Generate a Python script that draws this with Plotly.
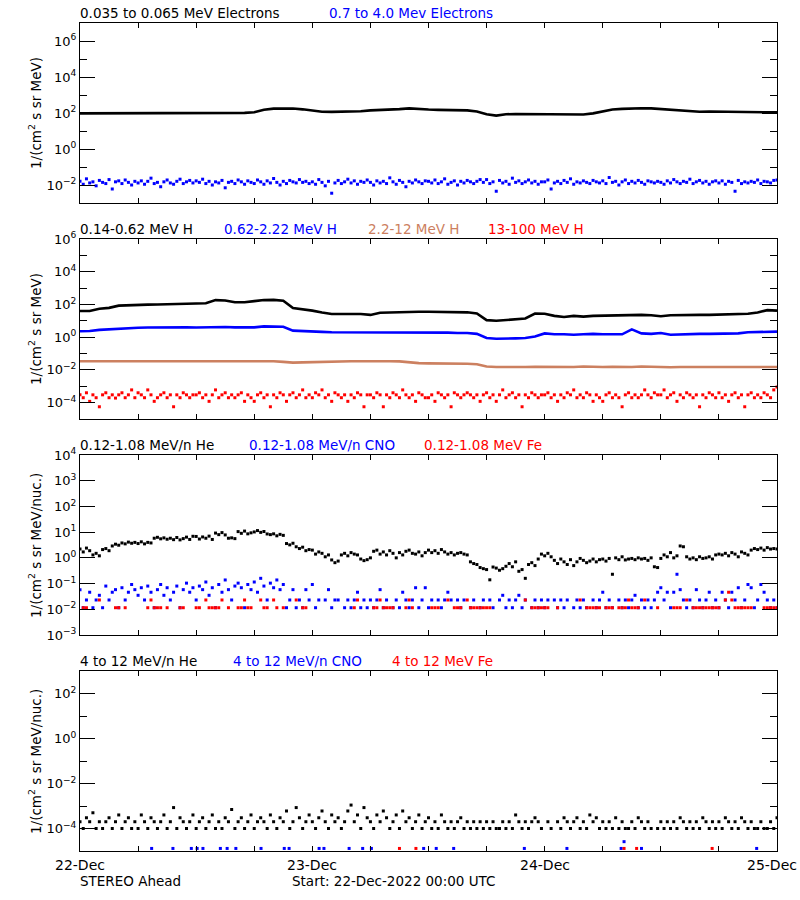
import pandas as pd
import plotly.graph_objects as go

# ---------------- time grids ----------------
START = "2022-12-22 00:00"
END = "2022-12-25 00:00"
t_hour = pd.date_range(START, periods=73, freq="h")
t_20 = pd.date_range(START, periods=217, freq="20min")

day_ticks = ["2022-12-22", "2022-12-23", "2022-12-24", "2022-12-25"]
day_labels = ["22-Dec", "23-Dec", "24-Dec", "25-Dec"]

# ---------------- panel 1: electrons ----------------
e_low = [95, 95, 98, 100, 100, 102, 102, 104, 104, 104, 102, 102,
         104, 104, 102, 100, 100, 102, 110, 150, 175, 182, 178, 160,
         135, 118, 116, 117, 118, 125, 140, 145, 150, 165, 180, 175,
         155, 150, 148, 146, 140, 120, 85, 72, 85, 88, 86, 84,
         85, 82, 80, 80, 82, 95, 125, 155, 170, 180, 182, 180,
         165, 148, 130, 120, 118, 120, 118, 115, 115, 113, 112, 110,
         108]
e_high = [0.016, 0.011, 0.022, 0.013, 0.015, 0.009, 0.018, 0.014, 0.012, 0.020, 0.006, 0.015, 0.017, 0.012, 0.019, 0.014, 0.010, 0.016,
          0.013, 0.017, 0.011, 0.016, 0.024, 0.012, 0.014, 0.008, 0.015, 0.019, 0.013, 0.011, 0.016, 0.021, 0.012, 0.015, 0.018, 0.013,
          0.017, 0.014, 0.021, 0.012, 0.016, 0.010, 0.015, 0.013, 0.018, 0.007, 0.014, 0.016, 0.012, 0.019, 0.015, 0.011, 0.017, 0.014,
          0.012, 0.019, 0.015, 0.011, 0.017, 0.013, 0.023, 0.014, 0.010, 0.016, 0.012, 0.018, 0.015, 0.013, 0.020, 0.014, 0.016, 0.012,
          0.015, 0.011, 0.020, 0.014, 0.009, 0.016, 0.0035, 0.013, 0.018, 0.012, 0.015, 0.021, 0.013, 0.017, 0.011, 0.016, 0.014, 0.019,
          0.014, 0.010, 0.017, 0.013, 0.016, 0.012, 0.025, 0.015, 0.011, 0.018, 0.014, 0.008, 0.016, 0.013, 0.019, 0.015, 0.012, 0.017,
          0.016, 0.013, 0.019, 0.012, 0.015, 0.022, 0.011, 0.014, 0.017, 0.010, 0.016, 0.013, 0.018, 0.015, 0.012, 0.016, 0.020, 0.014,
          0.020, 0.012, 0.015, 0.0045, 0.018, 0.013, 0.016, 0.011, 0.024, 0.014, 0.017, 0.012, 0.015, 0.019, 0.013, 0.016, 0.011, 0.015,
          0.015, 0.019, 0.006, 0.013, 0.016, 0.012, 0.018, 0.014, 0.022, 0.011, 0.015, 0.013, 0.017, 0.014, 0.012, 0.018, 0.015, 0.013,
          0.017, 0.012, 0.026, 0.014, 0.016, 0.010, 0.015, 0.019, 0.012, 0.016, 0.013, 0.018, 0.014, 0.011, 0.017, 0.015, 0.013, 0.016,
          0.014, 0.011, 0.017, 0.013, 0.020, 0.015, 0.012, 0.016, 0.014, 0.021, 0.012, 0.015, 0.018, 0.013, 0.016, 0.011, 0.015, 0.017,
          0.013, 0.017, 0.011, 0.016, 0.014, 0.0045, 0.018, 0.012, 0.015, 0.013, 0.016, 0.014, 0.019, 0.012, 0.016, 0.015, 0.013, 0.018,
          0.019]

# ---------------- panel 2: protons ----------------
h_1 = [40, 40, 55, 62, 85, 92, 95, 98, 100, 105, 108, 110,
       112, 118, 185, 175, 135, 135, 160, 185, 190, 170, 60, 52,
       42, 32, 26, 26, 26, 26, 23, 31, 32, 34, 36, 36,
       36, 36, 35, 33, 33, 28, 11, 10, 11, 12, 14, 28,
       27, 20, 17, 20, 18, 20, 21, 22, 22, 23, 23, 22,
       19, 22, 23, 22, 23, 23, 24, 25, 27, 27, 32, 45,
       42]
h_2 = [2.3, 2.4, 2.8, 3.1, 3.3, 3.6, 3.8, 3.9, 4.0, 4.0, 4.1, 4.0,
       3.9, 4.0, 4.5, 4.2, 4.0, 4.1, 4.0, 4.6, 4.5, 4.3, 2.5, 2.3,
       2.2, 2.1, 2.0, 2.0, 1.9, 2.0, 2.0, 2.1, 2.1, 2.0, 2.0, 2.0,
       1.9, 1.9, 1.9, 1.8, 1.8, 1.6, 0.9, 0.8, 0.8, 0.85, 0.9, 1.1,
       1.7, 1.5, 1.5, 1.4, 1.5, 1.6, 1.5, 1.5, 1.5, 3.0, 1.7, 1.6,
       1.8, 1.4, 1.5, 1.5, 1.6, 1.6, 1.6, 1.6, 1.7, 2.0, 2.0, 2.1,
       2.2]
h_3 = [0.034, 0.034, 0.033, 0.034, 0.035, 0.034, 0.034, 0.035, 0.034, 0.034, 0.035, 0.034,
       0.034, 0.035, 0.034, 0.035, 0.034, 0.034, 0.033, 0.034, 0.034, 0.031, 0.028, 0.029,
       0.030, 0.033, 0.034, 0.035, 0.034, 0.034, 0.035, 0.034, 0.034, 0.033, 0.028, 0.026,
       0.025, 0.025, 0.024, 0.025, 0.024, 0.022, 0.016, 0.015, 0.0145, 0.015, 0.015, 0.0155,
       0.015, 0.0145, 0.015, 0.015, 0.016, 0.015, 0.015, 0.0155, 0.015, 0.015, 0.016, 0.015,
       0.015, 0.0145, 0.015, 0.015, 0.0145, 0.015, 0.015, 0.0155, 0.015, 0.015, 0.015, 0.015,
       0.015]
h_4 = [3e-4, 2e-4, 4e-4, 1.2e-4, 3e-4, 2e-4, 5.6e-5, 3e-4, 4e-4, 2e-4, 3e-4, 1.9e-4, 3e-4, 4e-4, 2e-4, 3e-4, 6e-4, 2e-4,
       4e-4, 3e-4, 2e-4, 6e-4, 3e-4, 1.2e-4, 2e-4, 3e-4, 4e-4, 2e-4, 3e-4, 5.6e-5, 3e-4, 2e-4, 4e-4, 3e-4, 2e-4, 3e-4,
       3e-4, 4e-4, 2e-4, 3e-4, 1.2e-4, 3e-4, 6e-4, 2e-4, 3e-4, 4e-4, 2e-4, 3e-4, 2e-4, 3e-4, 4e-4, 1.2e-4, 3e-4, 2e-4,
       1.2e-4, 3e-4, 4e-4, 2e-4, 3e-4, 5.6e-5, 3e-4, 2e-4, 4e-4, 3e-4, 1.2e-4, 3e-4, 4e-4, 2e-4, 3e-4, 6e-4, 2e-4, 3e-4,
       2e-4, 4e-4, 3e-4, 6e-4, 2e-4, 3e-4, 1.2e-4, 4e-4, 3e-4, 2e-4, 3e-4, 1.2e-4, 3e-4, 2e-4, 4e-4, 3e-4, 5.6e-5, 3e-4,
       3e-4, 2e-4, 4e-4, 3e-4, 5.6e-5, 3e-4, 2e-4, 4e-4, 3e-4, 2e-4, 6e-4, 3e-4, 2e-4, 3e-4, 1.2e-4, 4e-4, 3e-4, 2e-4,
       2e-4, 3e-4, 1.2e-4, 4e-4, 3e-4, 2e-4, 3e-4, 5.6e-5, 4e-4, 3e-4, 2e-4, 3e-4, 4e-4, 3e-4, 2e-4, 3e-4, 1.2e-4, 3e-4,
       4e-4, 2e-4, 3e-4, 1.2e-4, 3e-4, 6e-4, 2e-4, 3e-4, 4e-4, 2e-4, 3e-4, 5.6e-5, 3e-4, 2e-4, 4e-4, 3e-4, 2e-4, 3e-4,
       3e-4, 4e-4, 2e-4, 3e-4, 1.2e-4, 3e-4, 2e-4, 4e-4, 3e-4, 6e-4, 2e-4, 3e-4, 2e-4, 4e-4, 3e-4, 1.2e-4, 3e-4, 2e-4,
       1.2e-4, 3e-4, 4e-4, 2e-4, 3e-4, 2e-4, 5.6e-5, 3e-4, 4e-4, 2e-4, 3e-4, 2e-4, 3e-4, 6e-4, 3e-4, 2e-4, 4e-4, 3e-4,
       3e-4, 6e-4, 2e-4, 3e-4, 4e-4, 1.2e-4, 3e-4, 2e-4, 4e-4, 3e-4, 2e-4, 3e-4, 5.6e-5, 3e-4, 2e-4, 4e-4, 3e-4, 2e-4,
       4e-4, 2e-4, 3e-4, 1.2e-4, 3e-4, 4e-4, 2e-4, 3e-4, 5.6e-5, 3e-4, 4e-4, 2e-4, 3e-4, 2e-4, 4e-4, 3e-4, 2e-4, 6e-4,
       9e-4]

# ---------------- panel 3: 0.12-1.08 MeV/n heavy ions ----------------
he_lo = [2.2, 1.7, 2.4, 1.9, 1.3, 1.5, 1.2, 2.1, 2.3, 1.9, 2.9, 3.4, 3.1, 3.8, 3.5, 4.1, 3.7, 4.0,
         3.6, 4.2, 3.5, 4.0, 3.8, 5.8, 6.3, 5.5, 6.0, 5.3, 5.8, 5.1, 6.2, 5.0, 5.6, 6.4, 5.2, 6.9,
         6.8, 5.4, 6.5, 5.8, 7.0, 5.2, 9.2, 8.0, 9.6, 7.8, 5.8, 6.0, 5.6, 10.5, 9.0, 11.0, 8.6, 9.4,
         10.2, 11.5, 9.8, 10.6, 8.5, 8.0, 8.6, 7.2, 8.2, 7.5, 3.6, 3.2, 3.7, 2.7, 2.3, 2.6, 1.9, 2.1,
         2.0, 1.4, 1.7, 1.5, 1.1, 1.3, 0.83, 0.65, 0.75, 1.3, 1.5, 1.2, 1.6, 1.4, 1.3, 0.9, 0.78, 0.85,
         1.0, 1.8, 2.0, 1.4, 1.7, 1.3, 1.9, 1.5, 1.0, 1.6, 1.3, 1.8, 2.0, 1.5, 1.4, 1.7, 1.2, 1.6,
         2.0, 1.6, 1.9, 1.5, 2.1, 1.7, 1.4, 1.6, 1.3, 1.5, 1.6, 1.4, 1.3, 0.7, 0.6, 0.55, 0.42, 0.38,
         0.35, 0.14, 0.44, 0.4, 0.33, 0.38, 0.47, 0.6, 0.45, 0.7, 0.3, 0.35, 0.16, 0.55, 0.65, 0.5, 0.9, 1.4,
         1.2, 1.5, 1.1, 0.8, 0.6, 0.9, 0.7, 0.55, 0.85, 0.5, 0.7, 0.95, 0.8, 0.65, 0.75, 0.9, 0.7, 0.85,
         0.9, 0.75, 0.95, 0.23, 1.0, 0.85, 1.1, 0.83, 0.9, 0.95, 0.85, 1.0, 0.9, 0.95, 0.8, 1.0, 0.45, 0.42,
         0.95, 1.3, 1.1, 1.6, 1.0, 1.2, 2.9, 2.7, 1.1, 0.9, 1.0, 0.85, 1.1, 0.95, 1.0, 1.1, 0.9, 1.3,
         1.4, 1.3, 1.5, 1.2, 1.6, 1.4, 1.1, 1.7, 1.5, 1.3, 2.0, 2.3, 2.1, 2.4, 2.0, 2.5, 2.2, 2.3,
         2.2]
cno_lo = [0.058, 0.0115, 0.023, 0.046, 0.0115, 0.023, 0.035, 0.0115, 0.08, 0.023, 0.046, 0.058, 0.0115, 0.069, 0.023, 0.046, 0.092, 0.058,
          0.035, 0.069, 0.023, 0.08, 0.046, 0.0115, 0.058, 0.092, 0.035, 0.069, 0.023, 0.046, 0.08, 0.0115, 0.058, 0.104, 0.046, 0.069,
          0.023, 0.08, 0.058, 0.115, 0.035, 0.069, 0.0115, 0.092, 0.046, 0.138, 0.058, 0.023, 0.08, 0.104, 0.069, 0.0115, 0.092, 0.058,
          0.115, 0.046, 0.16, 0.08, 0.023, 0.104, 0.069, 0.138, 0.058, 0.092, 0.0115, 0.023, 0.058, 0.0115, 0.023, 0.0115, 0.058, 0.023,
          0.092, 0.0115, 0.023, None, 0.023, 0.058, 0.0115, 0.023, 0.023, None, 0.0115, 0.023, 0.0115, 0.023, 0.046, 0.0115, 0.023, 0.0115,
          0.023, 0.0115, 0.023, 0.058, 0.0115, 0.023, None, 0.0115, 0.023, 0.0115, 0.046, 0.023, 0.0115, 0.023, 0.069, 0.0115, 0.023, 0.069,
          0.0115, 0.023, None, 0.023, 0.0115, 0.023, 0.046, 0.023, None, 0.023, 0.0115, 0.023, None, 0.0115, 0.023, None, 0.0115, 0.023,
          None, 0.023, 0.0115, None, 0.023, 0.035, 0.0115, 0.023, 0.0115, 0.023, 0.035, 0.0115, 0.023, None, 0.0115, 0.023, 0.0115, 0.023,
          0.0115, 0.023, None, 0.023, 0.0115, 0.023, 0.0115, 0.023, None, 0.0115, 0.023, 0.0115, 0.023, 0.0115, None, 0.023, 0.0115, 0.023,
          0.046, 0.0115, 0.023, 0.0115, None, 0.023, 0.0115, 0.023, 0.0115, 0.023, 0.035, 0.0115, 0.023, 0.0115, 0.023, 0.0115, 0.023, 0.046,
          0.069, 0.023, 0.046, 0.0115, 0.046, 0.23, 0.058, 0.023, 0.0115, 0.023, 0.0115, 0.058, 0.023, 0.0115, 0.023, 0.046, 0.0115, 0.023,
          0.0115, 0.046, 0.023, 0.0115, 0.046, 0.023, 0.069, 0.0115, 0.023, 0.092, 0.069, 0.0115, 0.023, 0.092, 0.046, 0.023, 0.0115, 0.023,
          0.0115]
fe_lo = [None, 0.0115, 0.0115, None, None, None, 0.023, None, None, None, None, 0.0115, 0.0115, None, 0.0115, None, None, None,
         None, None, None, 0.0115, 0.023, 0.0115, 0.0115, 0.0115, None, 0.0115, None, None, None, 0.0115, 0.0115, None, None, None,
         0.0115, 0.0115, None, 0.023, 0.0115, 0.0115, 0.0115, 0.0115, 0.023, None, 0.0115, None, None, 0.0115, 0.0115, 0.023, 0.0115, 0.0115,
         None, None, 0.023, 0.0115, 0.0115, None, 0.023, 0.0115, None, 0.0115, None, None, None, 0.023, None, 0.0115, 0.0115, None,
         None, None, None, None, None, None, None, None, None, None, None, None, None, 0.0115, 0.023, None, None, None,
         None, 0.0115, 0.0115, 0.023, 0.0115, 0.0115, 0.0115, 0.0115, None, None, None, 0.0115, 0.023, 0.0115, None, None, None, None,
         None, 0.0115, 0.0115, 0.0115, None, None, 0.023, None, 0.0115, 0.0115, 0.0115, None, 0.023, 0.0115, 0.0115, 0.0115, 0.0115, 0.0115,
         0.0115, 0.0115, None, None, None, None, None, None, None, None, None, None, 0.023, None, 0.0115, 0.0115, 0.0115, 0.0115,
         0.0115, 0.0115, None, None, 0.0115, None, None, None, None, None, None, 0.023, None, 0.0115, 0.0115, 0.0115, 0.0115, 0.0115,
         None, 0.0115, 0.0115, 0.0115, None, 0.0115, 0.0115, 0.0115, 0.023, 0.0115, 0.0115, 0.0115, None, 0.023, None, None, None, 0.0115,
         None, None, None, None, 0.0115, 0.0115, 0.0115, None, 0.023, None, 0.0115, 0.0115, 0.0115, 0.0115, 0.0115, 0.0115, 0.0115, 0.0115,
         0.0115, None, 0.023, 0.046, 0.023, 0.0115, 0.0115, 0.0115, 0.0115, 0.0115, 0.0115, None, None, None, 0.0115, 0.0115, 0.0115, 0.0115,
         0.0115]

# ---------------- panel 4: 4-12 MeV/n heavy ions ----------------
he_hi = [2e-4, 1e-4, 3e-4, 2e-4, 5e-4, 1e-4, 2e-4, 1e-4, 2e-4, 3e-4, 1e-4, 2e-4, 4e-4, 1e-4, 2e-4, 3e-4, 1e-4, 2e-4,
         1e-4, 4e-4, 2e-4, 1e-4, 3e-4, 2e-4, 1e-4, 2e-4, 4e-4, 1e-4, 2e-4, 8.5e-4, 1e-4, 3e-4, 2e-4, 1e-4, 2e-4, 4e-4,
         1e-4, 2e-4, 3e-4, 1e-4, 2e-4, 4e-4, 1e-4, 2e-4, 1e-4, 3e-4, 2e-4, 7e-4, 1e-4, 2e-4, 3e-4, 1e-4, 2e-4, 4e-4,
         1e-4, 2e-4, 3e-4, 2e-4, 1e-4, 4e-4, 2e-4, 1e-4, 3e-4, 2e-4, 6e-4, 1e-4, 2e-4, 8.5e-4, 3e-4, 1e-4, 2e-4, 4e-4,
         2e-4, 1e-4, 3e-4, 6e-4, 2e-4, 1e-4, 4e-4, 2e-4, 3e-4, 1e-4, 2e-4, 6e-4, 1.1e-3, 2e-4, 4e-4, 1e-4, 8.5e-4, 3e-4,
         2e-4, 1e-4, 4e-4, 2e-4, 6e-4, 3e-4, 1e-4, 2e-4, 4e-4, 1e-4, 6e-4, 2e-4, 3e-4, 1e-4, 2e-4, 4e-4, 1e-4, 2e-4,
         3e-4, 1e-4, 2e-4, 1e-4, 4e-4, 2e-4, 1e-4, 2e-4, 1e-4, 2e-4, 3e-4, 1e-4, 2e-4, 1e-4, 2e-4, 1e-4, 2e-4, 1e-4,
         2e-4, 1e-4, 2e-4, 1e-4, 1e-4, 2e-4, 1e-4, 2e-4, 1e-4, 4e-4, 2e-4, 1e-4, 2e-4, 1e-4, 2e-4, 3e-4, 2e-4, 1e-4,
         None, 2e-4, 1e-4, None, 2e-4, 1e-4, 3e-4, 2e-4, 1e-4, 2e-4, 3e-4, 1e-4, 2e-4, 1e-4, 4e-4, 2e-4, 3e-4, 1e-4,
         2e-4, 1e-4, 2e-4, 1e-4, 3e-4, 1e-4, 2e-4, 1e-4, 1e-4, 2e-4, 1e-4, 3e-4, 2e-4, 1e-4, 2e-4, 1e-4, None, 1e-4,
         2e-4, 1e-4, 2e-4, 1e-4, 2e-4, 1e-4, 3e-4, 2e-4, 1e-4, 2e-4, 1e-4, 2e-4, 1e-4, 3e-4, 2e-4, 1e-4, 2e-4, 1e-4,
         2e-4, 1e-4, 3e-4, 2e-4, 1e-4, 2e-4, 1e-4, 3e-4, 2e-4, 1e-4, 2e-4, 1e-4, 1e-4, 2e-4, 1e-4, 1e-4, 2e-4, 1e-4,
         3e-4]
cno_hi_hours = [7.4, 9.6, 11.5, 12.1, 12.7, 14.5, 15.2, 16.1, 18.7, 21.1, 21.6, 24.7, 25.2,
                27.8, 29.2, 30.1, 35.5, 36.8, 38.6, 45.9, 50.3, 55.9, 56.2, 58.0, 69.9]
cno_hi = [1.3e-5, 1.3e-5, 1.3e-5, 1.3e-5, 1.3e-5, 1.3e-5, 1.3e-5, 1.3e-5, 1.3e-5, 1.3e-5, 1.3e-5, 1.3e-5, 1.3e-5,
          1.3e-5, 1.3e-5, 1.3e-5, 1.3e-5, 1.3e-5, 1.3e-5, 1.3e-5, 1.3e-5, 1.3e-5, 2.6e-5, 1.3e-5, 1.3e-5]
fe_hi_hours = [33.0, 34.7, 56.2, 57.5, 65.3]
fe_hi = [1.3e-5, 1.3e-5, 1.3e-5, 1.3e-5, 1.3e-5]

t_cno_hi = [pd.Timestamp(START) + pd.Timedelta(hours=h) for h in cno_hi_hours]
t_fe_hi = [pd.Timestamp(START) + pd.Timedelta(hours=h) for h in fe_hi_hours]

# ---------------- styling ----------------
BLACK = "#000000"
BLUE = "#0000FF"
RED = "#FF0000"
SIENNA = "#CC8060"
FONT = "DejaVu Sans"


def line(x, y, color, xa, ya, w=2.6):
    return go.Scatter(x=x, y=y, mode="lines", line=dict(color=color, width=w),
                      xaxis=xa, yaxis=ya, showlegend=False, hoverinfo="skip")


def dots(x, y, color, xa, ya, size=3):
    return go.Scatter(x=x, y=y, mode="markers",
                      marker=dict(symbol="square", size=size, color=color, line=dict(width=0)),
                      xaxis=xa, yaxis=ya, showlegend=False, hoverinfo="skip")


fig = go.Figure()
# panel 1
fig.add_trace(line(t_hour, e_low, BLACK, "x", "y"))
fig.add_trace(dots(t_20, e_high, BLUE, "x", "y"))
# panel 2
fig.add_trace(line(t_hour, h_1, BLACK, "x2", "y2"))
fig.add_trace(line(t_hour, h_2, BLUE, "x2", "y2"))
fig.add_trace(line(t_hour, h_3, SIENNA, "x2", "y2"))
fig.add_trace(dots(t_20, h_4, RED, "x2", "y2"))
# panel 3
fig.add_trace(dots(t_20, he_lo, BLACK, "x3", "y3"))
fig.add_trace(dots(t_20, cno_lo, BLUE, "x3", "y3"))
fig.add_trace(dots(t_20, fe_lo, RED, "x3", "y3"))
# panel 4
fig.add_trace(dots(t_20, he_hi, BLACK, "x4", "y4"))
fig.add_trace(dots(t_cno_hi, cno_hi, BLUE, "x4", "y4"))
fig.add_trace(dots(t_fe_hi, fe_hi, RED, "x4", "y4"))

PLOT_H = 828.0
domains = [[648 / PLOT_H, 1.0], [432 / PLOT_H, 612 / PLOT_H],
           [216 / PLOT_H, 396 / PLOT_H], [0.0, 180 / PLOT_H]]


def sup(e):
    s = str(e) if e >= 0 else "\u2212" + str(-e)
    return "10<sup>" + s + "</sup>"


y_specs = [
    dict(rng=[-3, 7], major=[-2, 0, 2, 4, 6], minor=[-1, 1, 3, 5]),
    dict(rng=[-5, 6], major=[-4, -2, 0, 2, 4, 6], minor=[-3, -1, 1, 3, 5]),
    dict(rng=[-3, 4], major=[-3, -2, -1, 0, 1, 2, 3, 4], minor=[]),
    dict(rng=[-5, 3], major=[-4, -2, 0, 2], minor=[-3, -1, 1]),
]

layout = dict(
    width=800, height=900,
    margin=dict(l=80, r=23, t=23, b=49, autoexpand=False),
    paper_bgcolor="white", plot_bgcolor="white",
    font=dict(family=FONT, size=13, color="black"),
    showlegend=False,
)

for i in range(4):
    n = "" if i == 0 else str(i + 1)
    spec = y_specs[i]
    layout["xaxis" + n] = dict(
        type="date", range=[START, END], domain=[0, 1], anchor="y" + n,
        showline=True, linecolor="black", linewidth=1, mirror="ticks",
        ticks="inside", ticklen=5, tickwidth=1, tickcolor="black",
        tickmode="array", tickvals=day_ticks, ticktext=day_labels,
        showticklabels=False,
        showgrid=False, zeroline=False, automargin=False,
        minor=dict(dtick=6 * 3600 * 1000, tick0=START, ticks="inside", ticklen=5,
                   tickcolor="black", tickwidth=1, showgrid=False),
    )
    layout["yaxis" + n] = dict(
        type="log", range=spec["rng"], domain=domains[i], anchor="x" + n,
        showline=True, linecolor="black", linewidth=1, mirror="ticks",
        ticks="inside", ticklen=15, tickwidth=1, tickcolor="black",
        tickmode="array", tickvals=[10.0 ** e for e in spec["major"]],
        ticktext=[sup(e) for e in spec["major"]],
        tickfont=dict(family=FONT, size=13),
        showgrid=False, zeroline=False, automargin=False,
        minor=dict(tickmode="array", tickvals=[10.0 ** e for e in spec["minor"]],
                   ticks="inside", ticklen=7, tickcolor="black", tickwidth=1, showgrid=False),
    )

fig.update_layout(**layout)

W = 696.7


def px(xp):
    return (xp - 80) / W


titles = [
    (0, [("0.035 to 0.065 MeV Electrons", BLACK, 80), ("0.7 to 4.0 Mev Electrons", BLUE, 329)]),
    (1, [("0.14-0.62 MeV H", BLACK, 80), ("0.62-2.22 MeV H", BLUE, 224),
         ("2.2-12 MeV H", SIENNA, 368), ("13-100 MeV H", RED, 488)]),
    (2, [("0.12-1.08 MeV/n He", BLACK, 80), ("0.12-1.08 MeV/n CNO", BLUE, 249),
         ("0.12-1.08 MeV Fe", RED, 424)]),
    (3, [("4 to 12 MeV/n He", BLACK, 80), ("4 to 12 MeV/n CNO", BLUE, 233),
         ("4 to 12 MeV Fe", RED, 392)]),
]
ann = []
for i, parts in titles:
    for text, color, xp in parts:
        ann.append(dict(text=text, x=px(xp), xref="paper", y=domains[i][1], yref="paper",
                        xanchor="left", yanchor="bottom", showarrow=False, xshift=-2, yshift=0,
                        font=dict(family=FONT, size=13.5, color=color)))

ytitles = ["1/(cm<sup>2</sup> s sr MeV)", "1/(cm<sup>2</sup> s sr MeV)",
           "1/(cm<sup>2</sup> s sr MeV/nuc.)", "1/(cm<sup>2</sup> s sr MeV/nuc.)"]
for i, text in enumerate(ytitles):
    ann.append(dict(text=text, x=px(35), xref="paper", y=(domains[i][0] + domains[i][1]) / 2,
                    yref="paper", xanchor="center", yanchor="middle", textangle=-90,
                    showarrow=False, font=dict(family=FONT, size=13.5, color="black")))

# day labels under the bottom panel (the last one is kept inside the page edge)
for k, lab in enumerate(day_labels):
    last = k == len(day_labels) - 1
    ann.append(dict(text=lab, x=px(799) if last else k / 3.0, xref="paper",
                    y=-14 / PLOT_H, yref="paper",
                    xanchor="right" if last else "center", yanchor="middle", showarrow=False,
                    font=dict(family=FONT, size=14, color="black")))

ann.append(dict(text="STEREO Ahead", x=px(80), xref="paper", y=-30 / PLOT_H, yref="paper",
                xanchor="left", yanchor="middle", showarrow=False, xshift=-2,
                font=dict(family=FONT, size=13.5, color="black")))
ann.append(dict(text="Start: 22-Dec-2022 00:00 UTC", x=px(292), xref="paper", y=-30 / PLOT_H,
                yref="paper", xanchor="left", yanchor="middle", showarrow=False, xshift=-2,
                font=dict(family=FONT, size=13.5, color="black")))

fig.update_layout(annotations=ann)
fig.write_html("out.html", config={"displayModeBar": False},
               post_script="document.body.style.margin='0px';")
